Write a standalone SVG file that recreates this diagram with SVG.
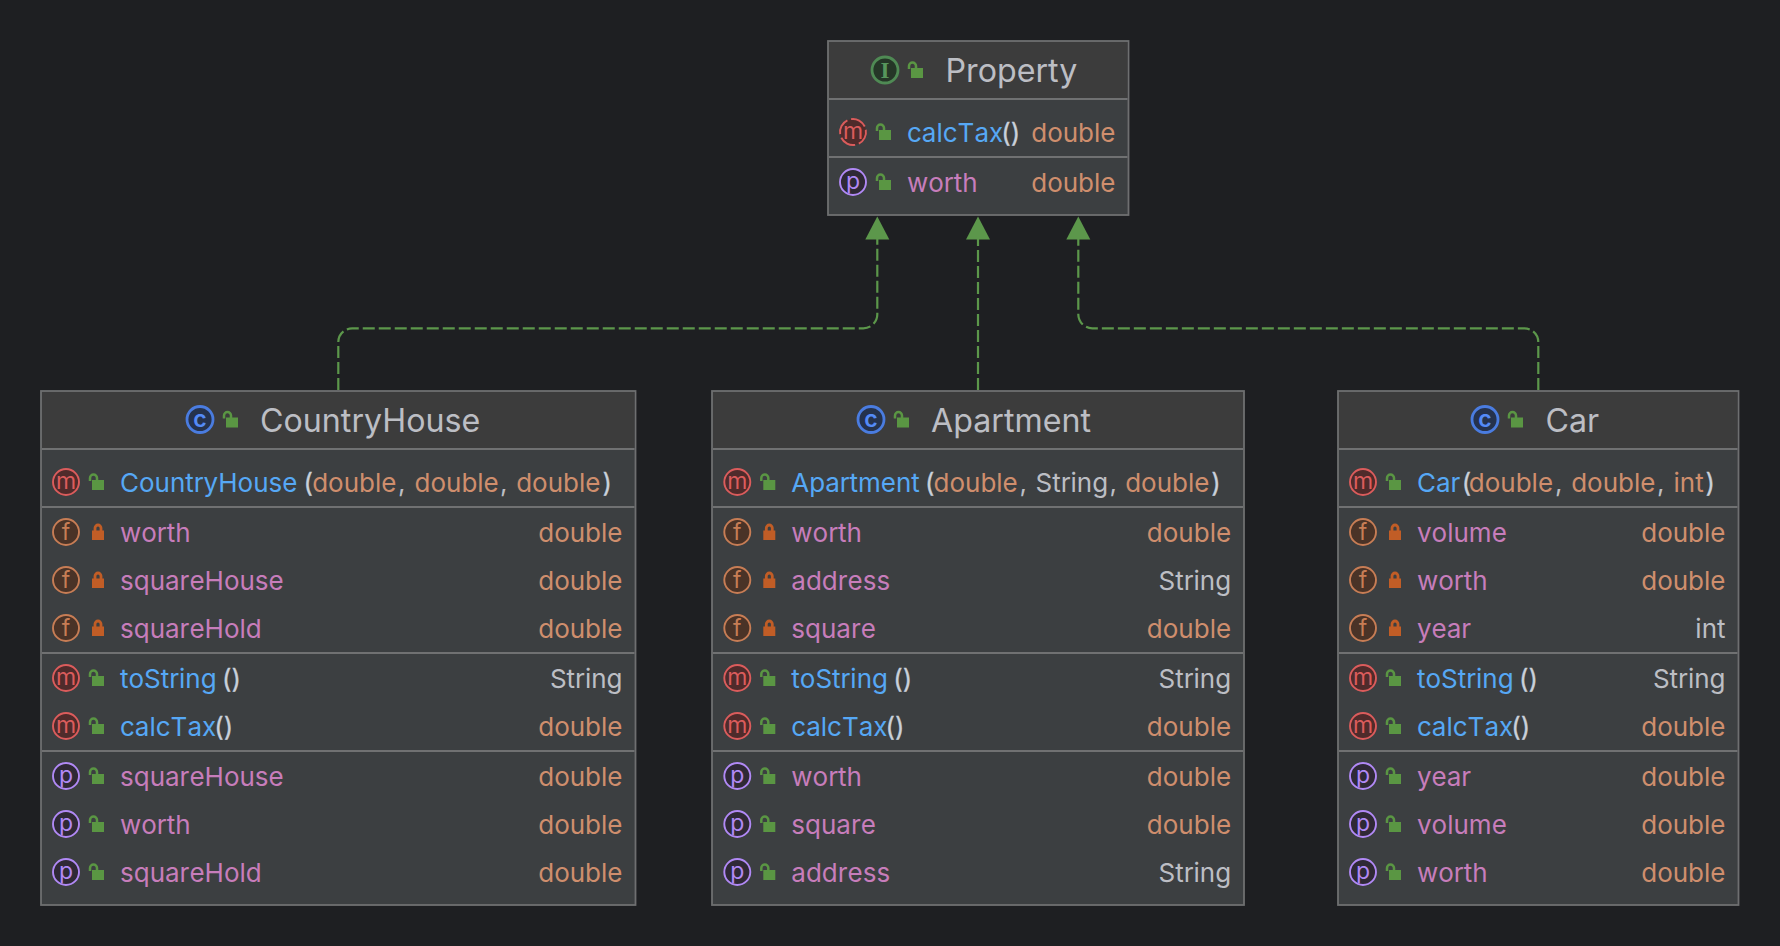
<svg xmlns="http://www.w3.org/2000/svg" width="1780" height="946" viewBox="0 0 1780 946">
<style>
text{font-family:"Inter","Noto Sans",sans-serif;font-size:26px;font-kerning:none}
.ti{font-size:32.2px;fill:#BCBEC4;font-kerning:normal}
.me{fill:#56A8F5}.fi{fill:#C77DBB}.ty{fill:#CF8E6D}.pl{fill:#BCBEC4}
.pa{fill:#C9D0DA;stroke:#C9D0DA;stroke-width:.3}
.r{text-anchor:end}
.box{fill:#3C3F41;stroke:#6E6F70;stroke-width:1.8}
.hd{fill:#3C3C3C}
.sep{stroke:#707172;stroke-width:2}
.ic{font-size:23px;text-anchor:middle}
.lk{fill:#5A9643}.ls{fill:none;stroke:#5A9643;stroke-width:2.5}
.pk{fill:#C15D26}.ps{fill:none;stroke:#C15D26;stroke-width:2.8}
.cn{fill:none;stroke:#5C974B;stroke-width:2.2;stroke-dasharray:12 4}
.ah{fill:#5C974B}
</style>
<defs>
<g id="open"><rect class="lk" x="26" y="-2" width="12" height="10"/><path class="ls" d="M24 -1V-4a3.500 3.500 0 0 1 7 0V-1"/></g>
<g id="shut"><rect class="pk" x="26" y="-1.500" width="12" height="9.500"/><path class="ps" d="M29 -1V-4a3 3 0 0 1 6 0V-1"/></g>
<g id="m"><circle r="13" fill="#4F2B2B" stroke="#DB5C5C" stroke-width="1.900"/><text class="ic" y="7" fill="#DB5C5C">m</text></g>
<g id="ma"><circle r="13" fill="#4F2B2B" stroke="#DB5C5C" stroke-width="1.900" stroke-dasharray="16.500 3.900" transform="rotate(-10)"/><text class="ic" y="7" fill="#DB5C5C">m</text></g>
<g id="f"><circle r="13" fill="#4A3327" stroke="#C77D55" stroke-width="1.900"/><text class="ic" y="8" fill="#C77D55">f</text></g>
<g id="p"><circle r="13" fill="#2F2936" stroke="#B189F5" stroke-width="1.900"/><text class="ic" y="6.500" fill="#B189F5">p</text></g>
<g id="c"><circle r="13" fill="#25324D" stroke="#4A7CE0" stroke-width="2.800"/><text class="ic" y="7" fill="#548AF7" style="font-weight:600">c</text></g>
<g id="i"><circle r="13" fill="#253627" stroke="#4F8A54" stroke-width="2.800"/><text class="ic" y="8" fill="#57965C" style="font-family:'Liberation Serif',serif;font-weight:bold">I</text></g>
</defs>
<rect width="1780" height="946" fill="#1E1F22"/>
<g id="connectors">
<path class="cn" d="M338.300 390V342.300a14 14 0 0 1 14-14H863.300a14 14 0 0 0 14-14V239"/>
<path class="cn" d="M978 390V239"/>
<path class="cn" d="M1538.300 390V342.300a14 14 0 0 0-14-14H1092.300a14 14 0 0 1-14-14V239"/>
<path class="ah" d="M877.300 216.500l12 23h-24z"/>
<path class="ah" d="M978 216.500l12 23h-24z"/>
<path class="ah" d="M1078.300 216.500l12 23h-24z"/>
</g>
<g id="Property">
<rect class="box" x="828" y="41" width="300.500" height="174"/>
<rect class="hd" x="829" y="42" width="298.500" height="56"/>
<path class="sep" d="M829 99H1127.500M829 157H1127.500"/>
<use href="#i" x="885" y="70"/><use href="#open" x="885" y="70"/>
<text class="ti" x="945.500" y="81.700">Property</text>
<use href="#ma" x="853" y="132"/><use href="#open" x="853" y="132"/>
<text y="141.500"><tspan class="me" x="907">calcTax</tspan><tspan class="pa" x="1001.300">()</tspan></text>
<text class="ty r" x="1115.500" y="141.500">double</text>
<use href="#p" x="853" y="182"/><use href="#open" x="853" y="182"/>
<text class="fi" x="907" y="191.500">worth</text>
<text class="ty r" x="1115.500" y="191.500">double</text>
</g>
<g id="CountryHouse">
<rect class="box" x="41" y="391" width="594.500" height="514"/>
<rect class="hd" x="42" y="392" width="592.500" height="56"/>
<path class="sep" d="M42 449H634.500M42 507H634.500M42 653H634.500M42 751H634.500"/>
<use href="#c" x="200" y="419.500"/><use href="#open" x="200" y="419.500"/>
<text class="ti" x="260" y="431.700">CountryHouse</text>
<use href="#m" x="66" y="482"/><use href="#open" x="66" y="482"/>
<text y="491.500"><tspan class="me" x="120">CountryHouse</tspan><tspan class="pa" x="303.500">(</tspan><tspan class="ty" x="312.200">double</tspan><tspan class="pl" x="398">,</tspan><tspan class="ty" x="414.500">double</tspan><tspan class="pl" x="500">,</tspan><tspan class="ty" x="516.200">double</tspan><tspan class="pa" x="602.500">)</tspan></text>
<use href="#f" x="66" y="532"/><use href="#shut" x="66" y="532"/>
<text class="fi" x="120" y="541.500">worth</text><text class="ty r" x="622.500" y="541.500">double</text>
<use href="#f" x="66" y="580"/><use href="#shut" x="66" y="580"/>
<text class="fi" x="120" y="589.500">squareHouse</text><text class="ty r" x="622.500" y="589.500">double</text>
<use href="#f" x="66" y="628"/><use href="#shut" x="66" y="628"/>
<text class="fi" x="120" y="637.500">squareHold</text><text class="ty r" x="622.500" y="637.500">double</text>
<use href="#m" x="66" y="678"/><use href="#open" x="66" y="678"/>
<text y="687.500"><tspan class="me" x="120">toString</tspan><tspan class="pa" x="222">()</tspan></text><text class="pl r" x="622.500" y="687.500">String</text>
<use href="#m" x="66" y="726"/><use href="#open" x="66" y="726"/>
<text y="735.500"><tspan class="me" x="120">calcTax</tspan><tspan class="pa" x="214.300">()</tspan></text><text class="ty r" x="622.500" y="735.500">double</text>
<use href="#p" x="66" y="776"/><use href="#open" x="66" y="776"/>
<text class="fi" x="120" y="785.500">squareHouse</text><text class="ty r" x="622.500" y="785.500">double</text>
<use href="#p" x="66" y="824"/><use href="#open" x="66" y="824"/>
<text class="fi" x="120" y="833.500">worth</text><text class="ty r" x="622.500" y="833.500">double</text>
<use href="#p" x="66" y="872"/><use href="#open" x="66" y="872"/>
<text class="fi" x="120" y="881.500">squareHold</text><text class="ty r" x="622.500" y="881.500">double</text>
</g>
<g id="Apartment">
<rect class="box" x="712" y="391" width="532" height="514"/>
<rect class="hd" x="713" y="392" width="530" height="56"/>
<path class="sep" d="M713 449H1243M713 507H1243M713 653H1243M713 751H1243"/>
<use href="#c" x="871" y="419.500"/><use href="#open" x="871" y="419.500"/>
<text class="ti" x="931" y="431.700">Apartment</text>
<use href="#m" x="737.300" y="482"/><use href="#open" x="737.300" y="482"/>
<text y="491.500"><tspan class="me" x="791.300">Apartment</tspan><tspan class="pa" x="925">(</tspan><tspan class="ty" x="933.500">double</tspan><tspan class="pl" x="1019.500">,</tspan><tspan class="pl" x="1035.500">String</tspan><tspan class="pl" x="1109.500">,</tspan><tspan class="ty" x="1125.200">double</tspan><tspan class="pa" x="1211.200">)</tspan></text>
<use href="#f" x="737.300" y="532"/><use href="#shut" x="737.300" y="532"/>
<text class="fi" x="791.300" y="541.500">worth</text><text class="ty r" x="1231.100" y="541.500">double</text>
<use href="#f" x="737.300" y="580"/><use href="#shut" x="737.300" y="580"/>
<text class="fi" x="791.300" y="589.500">address</text><text class="pl r" x="1231.100" y="589.500">String</text>
<use href="#f" x="737.300" y="628"/><use href="#shut" x="737.300" y="628"/>
<text class="fi" x="791.300" y="637.500">square</text><text class="ty r" x="1231.100" y="637.500">double</text>
<use href="#m" x="737.300" y="678"/><use href="#open" x="737.300" y="678"/>
<text y="687.500"><tspan class="me" x="791.300">toString</tspan><tspan class="pa" x="893.300">()</tspan></text><text class="pl r" x="1231.100" y="687.500">String</text>
<use href="#m" x="737.300" y="726"/><use href="#open" x="737.300" y="726"/>
<text y="735.500"><tspan class="me" x="791.300">calcTax</tspan><tspan class="pa" x="885.600">()</tspan></text><text class="ty r" x="1231.100" y="735.500">double</text>
<use href="#p" x="737.300" y="776"/><use href="#open" x="737.300" y="776"/>
<text class="fi" x="791.300" y="785.500">worth</text><text class="ty r" x="1231.100" y="785.500">double</text>
<use href="#p" x="737.300" y="824"/><use href="#open" x="737.300" y="824"/>
<text class="fi" x="791.300" y="833.500">square</text><text class="ty r" x="1231.100" y="833.500">double</text>
<use href="#p" x="737.300" y="872"/><use href="#open" x="737.300" y="872"/>
<text class="fi" x="791.300" y="881.500">address</text><text class="pl r" x="1231.100" y="881.500">String</text>
</g>
<g id="Car">
<rect class="box" x="1338" y="391" width="400.500" height="514"/>
<rect class="hd" x="1339" y="392" width="398.500" height="56"/>
<path class="sep" d="M1339 449H1737.500M1339 507H1737.500M1339 653H1737.500M1339 751H1737.500"/>
<use href="#c" x="1485" y="419.500"/><use href="#open" x="1485" y="419.500"/>
<text class="ti" x="1545.500" y="431.700">Car</text>
<use href="#m" x="1363" y="482"/><use href="#open" x="1363" y="482"/>
<text y="491.500"><tspan class="me" x="1417">Car</tspan><tspan class="pa" x="1461.800">(</tspan><tspan class="ty" x="1468.800">double</tspan><tspan class="pl" x="1555">,</tspan><tspan class="ty" x="1571.200">double</tspan><tspan class="pl" x="1657">,</tspan><tspan class="ty" x="1673.500">int</tspan><tspan class="pa" x="1705.500">)</tspan></text>
<use href="#f" x="1363" y="532"/><use href="#shut" x="1363" y="532"/>
<text class="fi" x="1417" y="541.500">volume</text><text class="ty r" x="1725.500" y="541.500">double</text>
<use href="#f" x="1363" y="580"/><use href="#shut" x="1363" y="580"/>
<text class="fi" x="1417" y="589.500">worth</text><text class="ty r" x="1725.500" y="589.500">double</text>
<use href="#f" x="1363" y="628"/><use href="#shut" x="1363" y="628"/>
<text class="fi" x="1417" y="637.500">year</text><text class="pl r" x="1725.500" y="637.500">int</text>
<use href="#m" x="1363" y="678"/><use href="#open" x="1363" y="678"/>
<text y="687.500"><tspan class="me" x="1417">toString</tspan><tspan class="pa" x="1519">()</tspan></text><text class="pl r" x="1725.500" y="687.500">String</text>
<use href="#m" x="1363" y="726"/><use href="#open" x="1363" y="726"/>
<text y="735.500"><tspan class="me" x="1417">calcTax</tspan><tspan class="pa" x="1511.300">()</tspan></text><text class="ty r" x="1725.500" y="735.500">double</text>
<use href="#p" x="1363" y="776"/><use href="#open" x="1363" y="776"/>
<text class="fi" x="1417" y="785.500">year</text><text class="ty r" x="1725.500" y="785.500">double</text>
<use href="#p" x="1363" y="824"/><use href="#open" x="1363" y="824"/>
<text class="fi" x="1417" y="833.500">volume</text><text class="ty r" x="1725.500" y="833.500">double</text>
<use href="#p" x="1363" y="872"/><use href="#open" x="1363" y="872"/>
<text class="fi" x="1417" y="881.500">worth</text><text class="ty r" x="1725.500" y="881.500">double</text>
</g>
</svg>
